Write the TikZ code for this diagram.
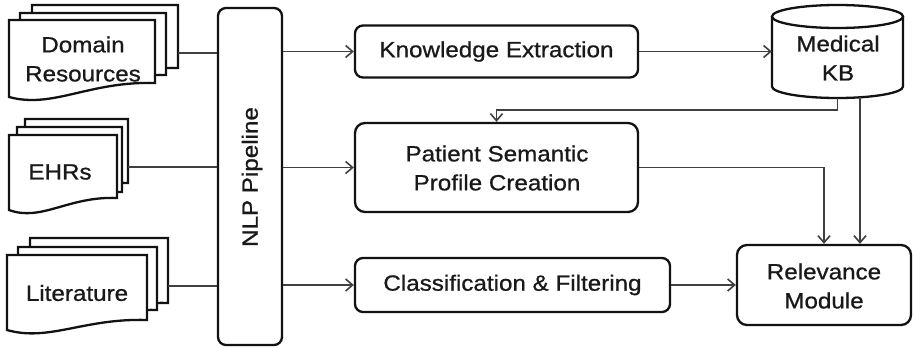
\documentclass[tikz,border=0pt]{standalone}
\usepackage{fontspec}
\setmainfont{Liberation Sans}[FakeStretch=1.1,FakeBold=0.8]
\usetikzlibrary{arrows.meta}
\definecolor{conncol}{HTML}{404040}
\definecolor{linecol}{HTML}{121212}
\newcommand\docshape[5]{%
 \pgfmathsetmacro\dsw{#3-#1}%
 \pgfmathsetmacro\dsax{#3-0.45*\dsw}%
 \pgfmathsetmacro\dsay{#5-2}%
 \pgfmathsetmacro\dsbx{#1+0.3*\dsw}%
 \pgfmathsetmacro\dsby{#4+12}%
 \filldraw[docs] (#1,#2) -- (#3,#2) -- (#3,#5) .. controls (\dsax,\dsay) and (\dsbx,\dsby) .. (#1,#4) -- cycle;}
\begin{document}
\begin{tikzpicture}[x=1pt,y=-1pt,
 box/.style={draw=linecol,line width=2.3pt,rounded corners=8pt,fill=white,inner sep=0pt},
 docs/.style={draw=linecol,fill=white,line width=2.3pt},
 lbl/.style={align=center,inner sep=0pt,font=\fontsize{22}{29}\selectfont,text=black!90},
 conn/.style={draw=conncol,line width=1.6pt},
 arr/.style={conn,-{Straight Barb[length=7pt,width=12pt,line width=1.6pt]}},
]
\useasboundingbox[fill=white] (0,0) rectangle (913,348);

% document stacks
\docshape{32}{5}{178}{82}{68}
\docshape{20}{13}{166}{89}{75}
\docshape{9}{20}{155}{97}{83}
\docshape{25}{119}{128}{195}{183}
\docshape{17}{127}{122}{204}{192}
\docshape{9}{135}{117}{210}{198}
\docshape{30}{238}{168}{313}{303}
\docshape{18}{247}{157}{321}{310}
\docshape{7}{255}{147}{330}{320}

\node[lbl] (dom) at (83,59) {Domain\\Resources};
\node[lbl] (ehr) at (60,172) {EHRs};
\node[lbl] (lit) at (77,293) {Literature};
\coordinate (domr) at (178,53);
\coordinate (ehrr) at (128,167);
\coordinate (litr) at (168,286);

% boxes
\node[box,minimum width=64pt,minimum height=337pt] (nlp) at (250,176.5) {};
\node[lbl,rotate=90] (nlpt) at (252,177) {NLP Pipeline};
\node[box,minimum width=283pt,minimum height=52pt] (ke) at (496.5,51.5) {};
\node[lbl] (ket) at (ke) {Knowledge Extraction};
\node[box,minimum width=283pt,minimum height=89pt,rounded corners=10pt] (psp) at (496.5,167.5) {};
\node[lbl] (pspt) at (497,168) {Patient Semantic\\Profile Creation};
\node[box,minimum width=315pt,minimum height=54pt] (cf) at (512.5,285) {};
\node[lbl] (cft) at (cf) {Classification \& Filtering};
\node[box,minimum width=174pt,minimum height=80pt,rounded corners=10pt] (rm) at (824,285) {};
\node[lbl] (rmt) at (824,286) {Relevance\\Module};

% cylinder
\node[minimum width=131pt,minimum height=93pt,inner sep=0pt] (kb) at (837.5,51.5) {};
\filldraw[docs] (772,16.5) -- (772,86.5) arc[start angle=180,end angle=360,x radius=65.5pt,y radius=11.5pt] -- (903,16.5);
\draw[docs] (837.5,16.5) ellipse[x radius=65.5pt,y radius=11.5pt];
\node[lbl] (kbt) at (838,58) {Medical\\KB};
\coordinate (kb2) at (860,97.3);

% connectors
\draw[conn] (domr) -- (domr -| nlp.west);
\draw[conn] (ehrr) -- (ehrr -| nlp.west);
\draw[conn] (litr) -- (litr -| nlp.west);
\draw[arr] (nlp.east |- ke.west) -- (ke.west);
\draw[arr] (nlp.east |- psp.west) -- (psp.west);
\draw[arr] (nlp.east |- cf.west) -- (cf.west);
\draw[arr] (ke.east) -- (ke.east -| kb.west);
\draw[arr] (kb.south) -- ++(0,12) -| (psp.north);
\draw[arr] (kb2) -- (kb2 |- rm.north);
\draw[arr] (psp.east) -| (rm.north);
\draw[arr] (cf.east) -- (rm.west);
\end{tikzpicture}
\end{document}
